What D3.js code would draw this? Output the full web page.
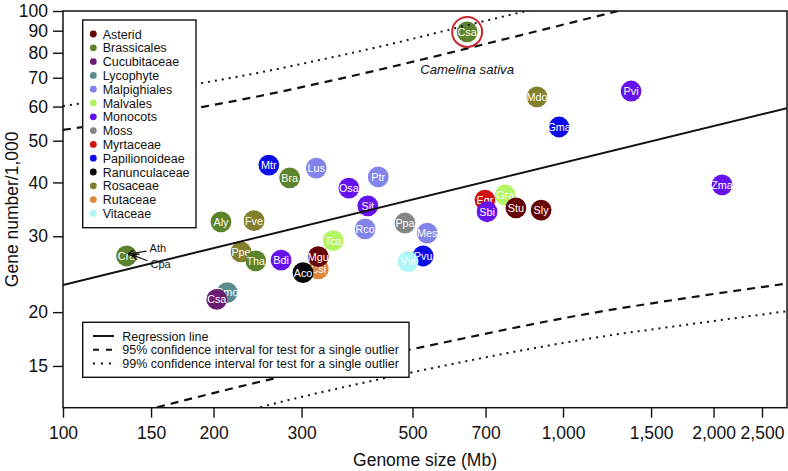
<!DOCTYPE html>
<html><head><meta charset="utf-8">
<script src="https://cdn.jsdelivr.net/npm/d3@7"></script>
<style>
html,body{margin:0;padding:0;background:#fff;}
text{font-family:"Liberation Sans",Arial,Helvetica,sans-serif;}
</style></head>
<body><svg id="chart" width="788" height="471"></svg>
<script>
// ---------- data ----------
const cladeNames = ["Asterid","Brassicales","Cucubitaceae","Lycophyte","Malpighiales","Malvales","Monocots","Moss","Myrtaceae","Papilionoideae","Ranunculaceae","Rosaceae","Rutaceae","Vitaceae"];
const cladeColors = ["#650505","#5b832b","#6a1b72","#5c8b8b","#8383ec","#b2f462","#6512ec","#858585","#cf1414","#0c0cea","#050505","#837f2c","#df873c","#aef6f6"];

const speciesCodes = ["Zma","Pvi","Mdo","Gma","Csa","Mtr","Bra","Lus","Ptr","Osa","Sit","Aly","Fve","Ppa","Rco","Mes","Egr","Gra","Sbi","Stu","Sly","Tca","Cru","Ppe","Tha","Bdi","Csi","Mgu","Aco","Pvu","Vvi","Smo","Csa"];
const speciesClade = ["Monocots","Monocots","Rosaceae","Papilionoideae","Brassicales","Papilionoideae","Brassicales","Malpighiales","Malpighiales","Monocots","Monocots","Brassicales","Rosaceae","Moss","Malpighiales","Malpighiales","Myrtaceae","Malvales","Monocots","Asterid","Asterid","Malvales","Brassicales","Rosaceae","Brassicales","Monocots","Rutaceae","Asterid","Ranunculaceae","Papilionoideae","Vitaceae","Lycophyte","Cucubitaceae"];
const genomeSizeMb = [2080,1368,887,982,643,258,284,321,427,373,407,207,241,483,402,535,698,766,705,805,904,347,134,227,243,273,324,324,302,525,490,213,203];
const geneNumberK = [39.5,65.2,63.2,53.8,89.4,43.9,41.0,43.2,41.2,38.8,35.3,32.4,32.6,32.2,31.2,30.5,36.4,37.4,34.2,34.9,34.5,29.3,27.0,27.6,26.3,26.4,25.2,26.9,24.7,27.0,26.2,22.2,21.4];

// outlier (Camelina sativa)
const outlierIndex = [4];
const outlierLabel = ["Camelina sativa"];
// hidden points annotated at the Cru position
const stackedLabels = ["Ath","Cpa"];
const stackedOn = ["Cru"];

// regression and interval curves, [genome size Mb, genes/1,000]
const regressionLine = [[100,23.13],[2805,59.5]];
const upper95 = [[100,52.96],[142.6,56.4],[190.5,59.9],[247.7,63.5],[326.6,68.0],[472.1,75.0],[748.2,85.5],[1271,99.6],[1361,101.6]];
const upper99 = [[100,60.2],[142.6,64.1],[187.9,67.9],[247.7,72.0],[326.6,77.0],[472.1,84.8],[622.3,91.8],[899.5,101.8]];
const lower95 = [[136.1,11.6],[152.8,12.0],[267.9,14.08],[501.2,16.43],[1148,19.92],[1879,21.8],[2805,23.3]];
const lower99 = [[225.9,11.7],[245.5,12.0],[494.3,14.46],[1186,17.52],[1879,18.88],[2805,20.1]];

const xTicks = [100,150,200,300,500,700,1000,1500,2000,2500];
const yTicks = [15,20,30,40,50,60,70,80,90,100];
const xDomain = [100, 2805];
const yDomain = [12.0, 100];
const xTitle = "Genome size (Mb)";
const yTitle = "Gene number/1,000";
const lineLegend = ["Regression line","95% confidence interval for test for a single outlier","99% confidence interval for test for a single outlier"];

// ---------- drawing ----------
const svg = d3.select("#chart");
svg.append("rect").attr("width",788).attr("height",471).attr("fill","#fff");
const L = 63, R = 787, T = 11, B = 407.7;
const x = d3.scaleLog().domain(xDomain).range([L, R]);
const y = d3.scaleLog().domain(yDomain).range([B, T]);
const color = d3.scaleOrdinal().domain(cladeNames).range(cladeColors);

svg.append("defs").append("clipPath").attr("id","clip")
  .append("rect").attr("x",L).attr("y",T).attr("width",R-L).attr("height",B-T);

const pts = speciesCodes.map((c,i)=>({code:c, clade:speciesClade[i], gs:genomeSizeMb[i], gn:geneNumberK[i]}));

// points
const pg = svg.append("g").attr("clip-path","url(#clip)");
const node = pg.selectAll("g.pt").data(pts).join("g").attr("class","pt")
  .attr("transform",d=>`translate(${x(d.gs)},${y(d.gn)})`);
node.append("circle").attr("r",10.4).attr("fill",d=>color(d.clade));
node.append("text").text(d=>d.code).attr("text-anchor","middle").attr("dy","0.36em")
  .attr("fill","#fff").attr("font-size",10.8);

// lines
const line = d3.line().x(d=>x(d[0])).y(d=>y(d[1])).curve(d3.curveMonotoneX);
const lg = svg.append("g").attr("clip-path","url(#clip)").attr("fill","none").attr("stroke","#111");
lg.append("path").attr("d",line(regressionLine)).attr("stroke-width",2);
[upper95,lower95].forEach(a=>lg.append("path").attr("d",line(a)).attr("stroke-width",2.2).attr("stroke-dasharray","8,6"));
[upper99,lower99].forEach(a=>lg.append("path").attr("d",line(a)).attr("stroke-width",2).attr("stroke-dasharray","2,5"));

// outlier ring + label
outlierIndex.forEach((oi,k)=>{
  const d = pts[oi];
  svg.append("circle").attr("cx",x(d.gs)).attr("cy",y(d.gn)).attr("r",15)
    .attr("fill","none").attr("stroke","#c8282a").attr("stroke-width",2);
  svg.append("text").text(outlierLabel[k]).attr("x",x(d.gs)).attr("y",y(d.gn)+42)
    .attr("text-anchor","middle").attr("font-size",13.2).attr("font-style","italic").attr("fill","#111");
});

// stacked labels with arrows
const cru = pts.find(p=>p.code===stackedOn[0]);
const cx0 = x(cru.gs), cy0 = y(cru.gn);
svg.append("defs").append("marker").attr("id","ah").attr("viewBox","0 0 10 10").attr("refX",9).attr("refY",5)
  .attr("markerWidth",6).attr("markerHeight",6).attr("orient","auto")
  .append("path").attr("d","M0,0 L10,5 L0,10").attr("fill","none").attr("stroke","#111").attr("stroke-width",2);
const labOff = [[23,-8],[24,8]];
const arrEnd = [[2,-2],[6,-1]];
stackedLabels.forEach((s,i)=>{
  svg.append("text").text(s).attr("x",cx0+labOff[i][0]).attr("y",cy0+labOff[i][1]).attr("dy","0.35em")
    .attr("font-size",11).attr("fill","#111");
  svg.append("line").attr("x1",cx0+labOff[i][0]-3).attr("y1",cy0+labOff[i][1]*0.6)
    .attr("x2",cx0+arrEnd[i][0]).attr("y2",cy0+arrEnd[i][1])
    .attr("stroke","#111").attr("stroke-width",1.2).attr("marker-end","url(#ah)");
});

// clade legend
const lg1 = svg.append("g");
lg1.append("rect").attr("x",82.7).attr("y",20).attr("width",113.3).attr("height",207.7)
  .attr("fill","#fff").attr("stroke","#111").attr("stroke-width",1.4);
cladeNames.forEach((c,i)=>{
  const yy = 34 + i*13.8;
  lg1.append("circle").attr("cx",93.3).attr("cy",yy).attr("r",3.4).attr("fill",cladeColors[i]);
  lg1.append("text").text(c).attr("x",102.7).attr("y",yy).attr("dy","0.36em").attr("font-size",12.5).attr("fill","#111");
});

// line legend
const lg2 = svg.append("g");
lg2.append("rect").attr("x",82.7).attr("y",322.3).attr("width",326.3).attr("height",55)
  .attr("fill","#fff").attr("stroke","#111").attr("stroke-width",1.4);
const dashes = [null,"6,7","2,6"];
lineLegend.forEach((t,i)=>{
  const yy = 336 + i*13.7;
  const ln = lg2.append("line").attr("x1",93).attr("x2",114).attr("y1",yy).attr("y2",yy)
    .attr("stroke","#111").attr("stroke-width",2);
  if (dashes[i]) ln.attr("stroke-dasharray",dashes[i]);
  lg2.append("text").text(t).attr("x",122.3).attr("y",yy).attr("dy","0.36em").attr("font-size",12.5).attr("fill","#111");
});

// axes
const xa = svg.append("g").attr("transform",`translate(0,${B})`)
  .call(d3.axisBottom(x).tickValues(xTicks).tickFormat(d3.format(",")).tickSize(10).tickPadding(9));
const ya = svg.append("g").attr("transform",`translate(${L},0)`)
  .call(d3.axisLeft(y).tickValues(yTicks).tickFormat(d3.format("d")).tickSize(10).tickPadding(5));
[xa,ya].forEach(a=>{
  a.select(".domain").remove();
  a.selectAll(".tick line").attr("stroke","#111").attr("stroke-width",1.4);
  a.selectAll(".tick text").attr("font-size",17.5).attr("fill","#111")
   .attr("font-family","'Liberation Sans',Arial,sans-serif");
});
svg.append("rect").attr("x",L).attr("y",T).attr("width",R-L).attr("height",B-T)
  .attr("fill","none").attr("stroke","#111").attr("stroke-width",1.5);

svg.append("text").text(xTitle).attr("x",(L+R)/2).attr("y",466).attr("text-anchor","middle")
  .attr("font-size",17.5).attr("fill","#111");
svg.append("text").text(yTitle).attr("transform",`translate(18,${(T+B)/2}) rotate(-90)`)
  .attr("text-anchor","middle").attr("font-size",17.5).attr("fill","#111");
</script></body></html>
